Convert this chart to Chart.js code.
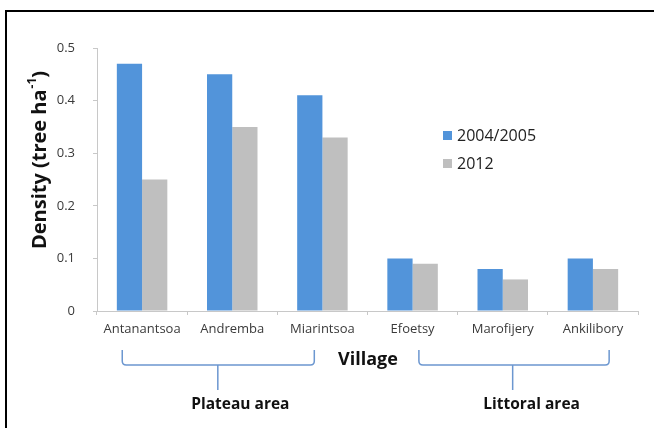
<!DOCTYPE html>
<html>
<head>
<meta charset="utf-8">
<script src="https://cdn.jsdelivr.net/npm/chart.js@4"></script>
<style>
  html, body { margin: 0; padding: 0; background: #fff; }
  #wrap { width: 654px; height: 428px; }
</style>
</head>
<body>
<div id="wrap"><canvas id="myChart" width="654" height="428"></canvas></div>
<script>
var villages = ['Antanantsoa', 'Andremba', 'Miarintsoa', 'Efoetsy', 'Marofijery', 'Ankilibory'];
var density2004 = [0.47, 0.45, 0.41, 0.10, 0.08, 0.10];
var density2012 = [0.25, 0.35, 0.33, 0.09, 0.06, 0.08];
var yTicks = [0, 0.1, 0.2, 0.3, 0.4, 0.5];
var areas = [
    { label: 'Plateau area', first: 0, last: 2 },
    { label: 'Littoral area', first: 3, last: 5 }
];

var FONT = "'Open Sans', sans-serif";
var blue = '#5294da';
var grey = '#bfbfbf';

// frame, legend, titles and the area brackets under the axis
var extras = {
    id: 'extras',
    afterDraw: function (chart) {
        var c = chart.ctx;
        var x = chart.scales.x;
        var area = chart.chartArea;
        c.save();

        // outer frame (top + left only)
        c.strokeStyle = '#000';
        c.lineWidth = 2;
        c.beginPath();
        c.moveTo(6, 428);
        c.lineTo(6, 11);
        c.lineTo(654, 11);
        c.stroke();

        // legend
        var sets = chart.data.datasets;
        c.font = '16px ' + FONT;
        c.textBaseline = 'middle';
        c.textAlign = 'left';
        sets.forEach(function (ds, i) {
            var ly = 135 + i * 28;
            c.fillStyle = ds.backgroundColor;
            c.fillRect(443, ly - 4, 9, 9);
            c.fillStyle = '#222';
            c.fillText(ds.label, 457, ly + 1);
        });

        // y title
        c.save();
        c.translate(40, 160);
        c.rotate(-Math.PI / 2);
        c.textAlign = 'left';
        c.fillStyle = '#111';
        var main = 'Density (tree ha';
        c.font = 'bold 20px ' + FONT;
        var w = c.measureText(main).width;
        c.font = 'bold 12px ' + FONT;
        var ws = c.measureText('-1').width;
        c.font = 'bold 20px ' + FONT;
        var wp = c.measureText(')').width;
        var sx = -(w + ws + wp + 1) / 2;
        c.fillText(main, sx, 0);
        c.font = 'bold 12px ' + FONT;
        c.fillText('-1', sx + w + 1, -7);
        c.font = 'bold 20px ' + FONT;
        c.fillText(')', sx + w + ws + 1, 0);
        c.restore();

        // x title
        c.textAlign = 'center';
        c.fillStyle = '#111';
        c.font = 'bold 18px ' + FONT;
        c.fillText('Village', 368, 360);

        // area brackets
        c.strokeStyle = '#6c97d0';
        c.lineWidth = 1.5;
        var offs = [[-0.22, -0.09, 0.84, 1.09], [0.07, 0.18, 1.11, 1.32]];
        areas.forEach(function (a, i) {
            var o = offs[i];
            var x1 = x.getPixelForValue(a.first + o[0]);
            var x2 = x.getPixelForValue(a.last + o[1]);
            var xm = x.getPixelForValue(a.first + o[2]);
            var top = 350, mid = 365, r = 4;
            c.beginPath();
            c.moveTo(x1, top);
            c.lineTo(x1, mid - r);
            c.quadraticCurveTo(x1, mid, x1 + r, mid);
            c.lineTo(x2 - r, mid);
            c.quadraticCurveTo(x2, mid, x2, mid - r);
            c.lineTo(x2, top);
            c.moveTo(xm, mid);
            c.lineTo(xm, 390);
            c.stroke();

            c.fillStyle = '#111';
            c.font = 'bold 15.5px ' + FONT;
            c.fillText(a.label, x.getPixelForValue(a.first + o[3]), 405);
        });

        c.restore();
    }
};

var ctx = document.getElementById('myChart').getContext('2d');
var myChart = new Chart(ctx, {
    type: 'bar',
    data: {
        labels: villages,
        datasets: [{
            label: '2004/2005',
            data: density2004,
            backgroundColor: blue
        },
        {
            label: '2012',
            data: density2012,
            backgroundColor: grey
        }]
    },
    options: {
        responsive: false,
        animation: false,
        layout: {
            padding: { top: 48, right: 16, left: 0, bottom: 0 }
        },
        datasets: {
            bar: {
                categoryPercentage: 0.56,
                barPercentage: 1.0
            }
        },
        plugins: {
            legend: { display: false },
            tooltip: { enabled: false }
        },
        scales: {
            x: {
                afterFit: function (scale) { scale.height = 117; },
                grid: {
                    drawOnChartArea: false,
                    color: '#c8c8c8',
                    tickLength: 4
                },
                border: { color: '#c8c8c8' },
                ticks: {
                    color: '#3a3a3a',
                    padding: 6,
                    maxRotation: 0,
                    font: { family: FONT, size: 13 }
                }
            },
            y: {
                min: 0,
                max: 0.5,
                afterFit: function (scale) { scale.width = 97; },
                afterBuildTicks: function (scale) {
                    scale.ticks = yTicks.map(function (v) { return { value: v }; });
                },
                grid: {
                    drawOnChartArea: false,
                    color: '#c8c8c8',
                    tickLength: 4
                },
                border: { color: '#c8c8c8' },
                ticks: {
                    color: '#3a3a3a',
                    padding: 18,
                    font: { family: FONT, size: 13 }
                }
            }
        }
    },
    plugins: [extras]
});
</script>
</body>
</html>
